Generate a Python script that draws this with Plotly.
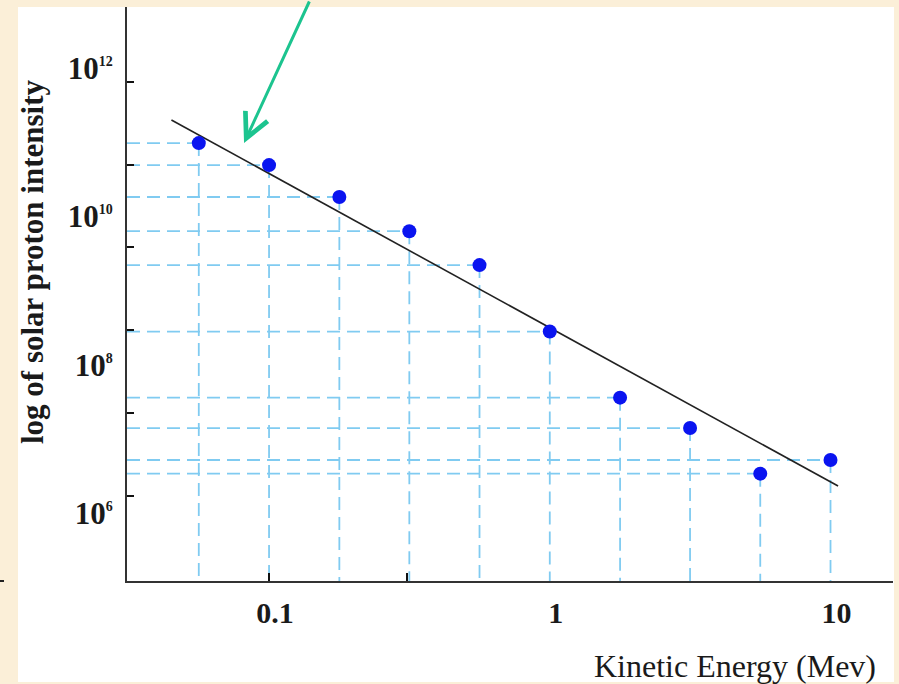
import plotly.graph_objects as go

# ---- data ----
energy_mev = [0.0562, 0.1, 0.178, 0.316, 0.562, 1.0, 1.78, 3.16, 5.62, 10.0]
intensity = [9.7e10, 4.9e10, 1.82e10, 6.3e9, 2.2e9, 2.8e8, 3.6e7, 1.4e7, 3.4e6, 5.2e6]
fit_energy = [0.0449, 10.64]
fit_intensity = [1.99e11, 2.32e6]
x_tick_vals = [0.1, 1, 10]
x_tick_text = ["0.1", "1", "10"]
y_tick_vals = [1e6, 1e8, 1e10, 1e12]
y_tick_exp = ["6", "8", "10", "12"]
x_minor_ticks = [0.1, 0.31]
y_minor_ticks = [1, 2, 3, 4, 5, 6]

# ---- layout geometry ----
W, H = 899, 684
ML, MR, MT, MB = 127, 6, 7, 103
PW, PH = W - ML - MR, H - MT - MB
XR = [-1.506, 1.2226]   # log10 range
YR = [5.085, 12.821]    # log10 range


def px_x(p):
    return (p - ML) / PW


def px_y(p):
    return (H - MB - p) / PH


BLUE_DASH = "#80cbf1"
xmin = 10 ** XR[0]
ymin = 10 ** YR[0]

gx, gy = [], []
for e, v in zip(energy_mev, intensity):
    gx += [xmin, e, None, e, e, None]
    gy += [v, v, None, v, ymin, None]

fig = go.Figure()
fig.add_trace(go.Scatter(x=gx, y=gy, mode="lines",
                         line=dict(color=BLUE_DASH, width=1.8, dash="13px,7px"),
                         hoverinfo="skip", showlegend=False))
fig.add_trace(go.Scatter(x=fit_energy, y=fit_intensity, mode="lines",
                         line=dict(color="#222222", width=1.6),
                         showlegend=False))
fig.add_trace(go.Scatter(x=energy_mev, y=intensity, mode="markers",
                         marker=dict(color="#0a14f0", size=14, symbol="circle"),
                         showlegend=False))
# invisible trace on overlay axes (for extra tick marks)
fig.add_trace(go.Scatter(x=[None], y=[None], xaxis="x2", yaxis="y2",
                         mode="markers", showlegend=False, hoverinfo="skip"))

serif = "Liberation Serif"
y_tick_text = ["10<sup><span style='font-size:14px'>%s</span></sup>" % e
               for e in y_tick_exp]

fig.update_layout(
    width=W, height=H,
    margin=dict(l=ML, r=MR, t=MT, b=MB, autoexpand=False),
    paper_bgcolor="#fbefd8",
    plot_bgcolor="white",
    font=dict(family=serif, color="#1a1a1a"),
    xaxis=dict(type="log", range=XR, showgrid=False, zeroline=False,
               showline=True, linecolor="#333333", linewidth=2,
               tickvals=x_tick_vals, ticktext=x_tick_text, ticks="",
               automargin=False,
               tickfont=dict(family=serif, size=30, weight="bold", color="#1a1a1a"),
               ticklabelshift=6, ticklabelstandoff=4),
    yaxis=dict(type="log", range=YR, showgrid=False, zeroline=False,
               showline=True, linecolor="#333333", linewidth=2,
               tickvals=y_tick_vals, ticktext=y_tick_text, ticks="",
               automargin=False,
               tickfont=dict(family=serif, size=31, weight="bold", color="#1a1a1a"),
               ticklabelstandoff=6),
    xaxis2=dict(type="log", range=XR, overlaying="x", side="bottom",
                showgrid=False, zeroline=False, showline=False, automargin=False,
                tickvals=x_minor_ticks, ticks="inside", ticklen=8, tickwidth=2,
                tickcolor="#111111", showticklabels=False),
    yaxis2=dict(range=[-0.023, 6.901], overlaying="y", side="left",
                showgrid=False, zeroline=False, showline=False, automargin=False,
                tickvals=y_minor_ticks, ticks="inside", ticklen=7, tickwidth=2,
                tickcolor="#111111", showticklabels=False),
    shapes=[dict(type="rect", xref="paper", yref="paper", layer="below",
                 x0=px_x(18), x1=px_x(894), y0=px_y(682), y1=px_y(7),
                 fillcolor="white", line=dict(width=0)),
            dict(type="line", xref="paper", yref="paper",
                 x0=px_x(0), x1=px_x(4), y0=px_y(581), y1=px_y(581),
                 line=dict(color="#222222", width=2))],
    annotations=[
        dict(text="log of solar proton intensity", textangle=-90,
             xref="paper", yref="paper", x=px_x(32), y=px_y(262),
             xanchor="center", yanchor="middle",
             showarrow=False, font=dict(family=serif, size=31, weight="bold",
                                        color="#1a1a1a")),
        dict(text="Kinetic Energy (Mev)", xref="paper", yref="paper",
             x=px_x(735), y=px_y(666), xanchor="center", yanchor="middle",
             showarrow=False,
             font=dict(family=serif, size=32, color="#1a1a1a")),
    ],
)

# green arrow pointing at the fitted line
fig.add_annotation(x=(244 - 549.75) / 280.75, y=9 + (290.5 - 143) / 74.2,
                   xref="x", yref="y", text="", showarrow=True,
                   ax=66, ay=-150, arrowcolor="#1cc48f", arrowwidth=3,
                   arrowhead=5, arrowsize=1.6)

fig.write_html("out.html",
               config={"displayModeBar": False},
               post_script="document.body.style.margin='0px';"
                           "document.body.style.overflow='hidden';")
